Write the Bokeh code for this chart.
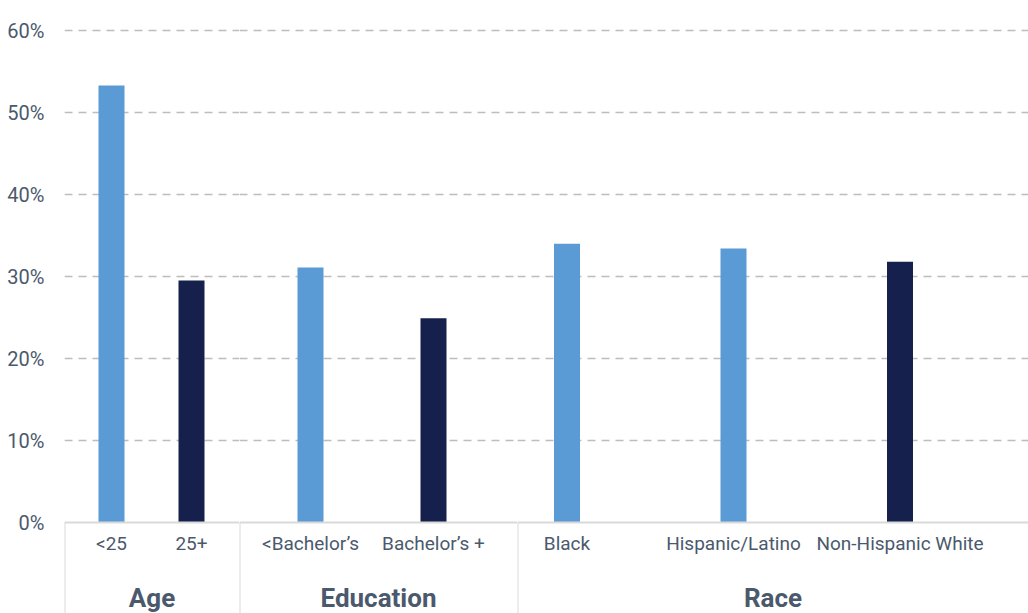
from bokeh.plotting import figure
from bokeh.layouts import row
from bokeh.models import FixedTicker, Range1d
from bokeh.embed import file_html
from bokeh.resources import INLINE

# ---- data ----
groups = ["Age", "Education", "Race"]
age_categories = ["<25", "25+"]
age_values = [53.3, 29.5]
education_categories = ["<Bachelor\u2019s", "Bachelor\u2019s +"]
education_values = [31.1, 24.9]
race_categories = ["Black", "Hispanic/Latino", "Non-Hispanic White"]
race_values = [34.0, 33.4, 31.8]
y_ticks = [0, 10, 20, 30, 40, 50, 60]
y_tick_labels = ["0%", "10%", "20%", "30%", "40%", "50%", "60%"]

# ---- style ----
LIGHT = "#5B9BD5"
DARK = "#15204C"
TEXT = "#4B596D"
GRID = "#BDBDBD"
AXIS = "#D9D9D9"
FONT = "Roboto"

age_colors = [LIGHT, DARK]
education_colors = [LIGHT, DARK]
race_colors = [LIGHT, LIGHT, DARK]

panels = [
    (groups[0], age_categories, age_values, age_colors, 175, 47, 80.0),
    (groups[1], education_categories, education_values, education_colors, 278, 71, 123.0),
    (groups[2], race_categories, race_values, race_colors, 511, 49.5, 166.5),
]

PX_PER_PCT = 8.2
H = 613
TOP = 8
ZERO_Y = 522
y_max = (ZERO_Y - TOP) / PX_PER_PCT
y_min = -(H - ZERO_Y) / PX_PER_PCT
y_range = Range1d(y_min, y_max)

figs = []
for i, (gname, cats, vals, cols, fw, first_px, ppu) in enumerate(panels):
    start = -first_px / ppu
    end = start + fw / ppu
    left_border = 64 if i == 0 else 0
    p = figure(width=fw + left_border, height=H, x_range=Range1d(start, end), y_range=y_range,
               output_backend="svg", toolbar_location=None,
               min_border_left=left_border, min_border_right=0, min_border_top=TOP,
               min_border_bottom=0)
    p.outline_line_color = None
    p.background_fill_color = "white"
    p.border_fill_color = "white"

    xs = list(range(len(cats)))
    p.vbar(x=xs, top=vals, width=26.0 / ppu, bottom=0, fill_color=cols, line_color=None)

    # separator below the baseline
    p.segment(x0=[start], y0=[0], x1=[start], y1=[y_min], line_color=AXIS, line_width=2)

    # x axis at baseline
    xa = p.xaxis[0]
    xa.fixed_location = 0
    xa.ticker = FixedTicker(ticks=xs)
    xa.major_label_overrides = {x: c for x, c in zip(xs, cats)}
    xa.major_tick_line_color = None
    xa.minor_tick_line_color = None
    xa.axis_line_color = AXIS
    xa.axis_line_width = 2
    xa.major_label_text_font = FONT
    xa.major_label_text_font_size = "19px"
    xa.major_label_text_color = TEXT
    xa.major_label_standoff = 3
    xa.axis_label = gname
    xa.axis_label_text_font = FONT
    xa.axis_label_text_font_size = "26px"
    xa.axis_label_text_font_style = "bold"
    xa.axis_label_text_color = TEXT
    xa.axis_label_standoff = 25

    p.xgrid.visible = False
    p.ygrid.ticker = FixedTicker(ticks=y_ticks[1:])
    p.ygrid.grid_line_color = GRID
    p.ygrid.grid_line_dash = "8 6"
    p.ygrid.grid_line_width = 1.4

    ya = p.yaxis[0]
    if i == 0:
        ya.ticker = FixedTicker(ticks=y_ticks)
        ya.major_label_overrides = {t: l for t, l in zip(y_ticks, y_tick_labels)}
        ya.major_tick_line_color = None
        ya.minor_tick_line_color = None
        ya.axis_line_color = None
        ya.major_label_text_font = FONT
        ya.major_label_text_font_size = "20px"
        ya.major_label_text_color = TEXT
        ya.major_label_standoff = 14
    else:
        ya.visible = False
    figs.append(p)

layout = row(*figs, spacing=0)
open("out.html", "w").write(file_html(layout, INLINE))
